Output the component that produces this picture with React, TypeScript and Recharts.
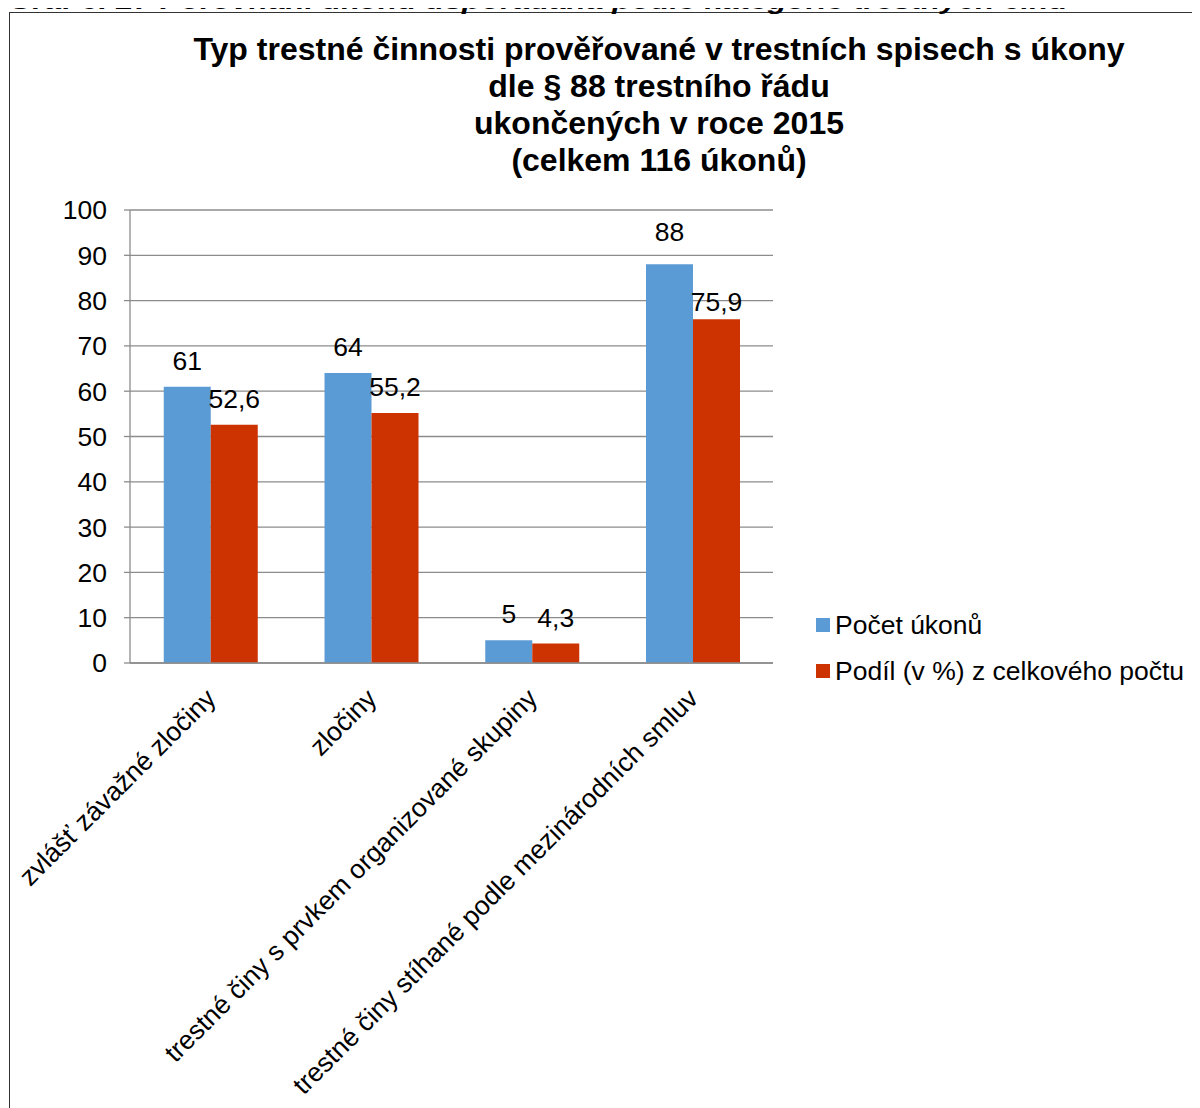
import React from 'react'
import { Bar, BarChart, CartesianGrid, LabelList, XAxis, YAxis } from 'recharts'

const categories = [
  'zvlášť závažné zločiny',
  'zločiny',
  'trestné činy s prvkem organizované skupiny',
  'trestné činy stíhané podle mezinárodních smluv',
]
const pocetUkonu = [61, 64, 5, 88]
const podilProcent = [52.6, 55.2, 4.3, 75.9]
const yTicks = [0, 10, 20, 30, 40, 50, 60, 70, 80, 90, 100]
const boundaryTicks = [0, 1, 2, 3, 4]

const titleLines = [
  'Typ trestné činnosti prověřované v trestních spisech s úkony',
  'dle § 88 trestního řádu',
  'ukončených v roce 2015',
  '(celkem 116 úkonů)',
]

const BLUE = '#5B9BD5'
const RED = '#CC3300'
const GRID = '#8c8c8c'
const FONT = '"Liberation Sans", Arial, sans-serif'
const FS = 26.5

// small vertical nudges for the labels on the last group, as the source moves them apart
const nudgeBlue = [0, 0, 0, -6]
const nudgeRed = [0, 0, 0, 9]

const data = categories.map((name, i) => ({
  name,
  idx: i + 0.5,
  pocet: pocetUkonu[i],
  podil: podilProcent[i],
}))

const fmt = (v: any) => String(v).replace('.', ',')

const makeLabel = (nudge: number[]) => (props: any) => {
  const { x, y, width, value, index } = props
  return (
    <text
      x={x + width / 2}
      y={y - 17 + (nudge[index] || 0)}
      textAnchor="middle"
      fontSize={FS}
      fontFamily={FONT}
      fill="#000"
    >
      {fmt(value)}
    </text>
  )
}

function CategoryTick(props: any) {
  const { x, y, payload } = props
  return (
    <g transform={`translate(${x + 7},${y + 29})`}>
      <text transform="rotate(-45)" textAnchor="end" fontSize={FS} fontFamily={FONT} fill="#000">
        {payload.value}
      </text>
    </g>
  )
}

export default function App() {
  return (
    <div style={{ position: 'relative', width: 1192, height: 1100, fontFamily: FONT }}>
      {/* frame, open to the right and bottom where the page cuts it */}
      <div
        style={{
          position: 'absolute',
          left: 1,
          top: 4,
          width: 1191,
          height: 1096,
          borderLeft: '1.5px solid #333',
          borderTop: '1.5px solid #333',
          boxSizing: 'border-box',
        }}
      />
      {/* caption cut off at the top edge */}
      <svg width={1192} height={20} style={{ position: 'absolute', left: 0, top: -8 }}>
        <text
          x={0}
          y={9}
          fontSize={25}
          fontWeight="bold"
          fontStyle="italic"
          fontFamily={FONT}
          textLength={1060}
          lengthAdjust="spacingAndGlyphs"
        >
          Graf č. 27 Porovnání úkonů uspořádaná podle kategorie trestných činů
        </text>
      </svg>
      <svg width={1192} height={180} style={{ position: 'absolute', left: 0, top: 0 }}>
        {titleLines.map((t, i) => (
          <text
            key={t}
            x={651}
            y={52 + i * 37}
            textAnchor="middle"
            fontSize={32}
            fontWeight="bold"
            fontFamily={FONT}
            fill="#000"
          >
            {t}
          </text>
        ))}
      </svg>

      <div style={{ position: 'absolute', left: 0, top: 0 }}>
        <BarChart
          width={1192}
          height={1100}
          data={data}
          margin={{ top: 202, right: 427, bottom: 0, left: 0 }}
          barCategoryGap="21%"
          barGap={0}
        >
          <CartesianGrid horizontal vertical={false} stroke={GRID} strokeWidth={1.3} />
          <XAxis
            dataKey="name"
            interval={0}
            tick={<CategoryTick />}
            tickLine={false}
            axisLine={{ stroke: GRID, strokeWidth: 1.3 }}
            height={445}
          />
          <XAxis
            xAxisId="bounds"
            type="number"
            dataKey="idx"
            domain={[0, 4]}
            ticks={boundaryTicks}
            tick={false}
            tickLine={{ stroke: GRID, strokeWidth: 1.3 }}
            tickSize={8}
            axisLine={false}
            height={0}
          />
          <YAxis
            domain={[0, 100]}
            ticks={yTicks}
            interval={0}
            width={122}
            tickSize={6}
            tickMargin={17}
            tick={{ fontSize: FS, fill: '#000', fontFamily: FONT }}
            tickLine={{ stroke: GRID, strokeWidth: 1.3 }}
            axisLine={{ stroke: GRID, strokeWidth: 1.3 }}
          />
          <Bar dataKey="pocet" fill={BLUE} isAnimationActive={false}>
            <LabelList dataKey="pocet" content={makeLabel(nudgeBlue)} />
          </Bar>
          <Bar dataKey="podil" fill={RED} isAnimationActive={false}>
            <LabelList dataKey="podil" content={makeLabel(nudgeRed)} />
          </Bar>
        </BarChart>
      </div>

      {/* legend */}
      <div style={{ position: 'absolute', left: 808, top: 602, fontSize: FS, color: '#000', lineHeight: '30px' }}>
        <div style={{ display: 'flex', alignItems: 'center', height: 30 }}>
          <span style={{ width: 14, height: 14, background: BLUE, marginRight: 5, display: 'inline-block' }} />
          Počet úkonů
        </div>
        <div style={{ display: 'flex', alignItems: 'center', height: 30, marginTop: 16, whiteSpace: 'nowrap' }}>
          <span style={{ width: 14, height: 14, background: RED, marginRight: 5, display: 'inline-block' }} />
          Podíl (v %) z celkového počtu
        </div>
      </div>
    </div>
  )
}
